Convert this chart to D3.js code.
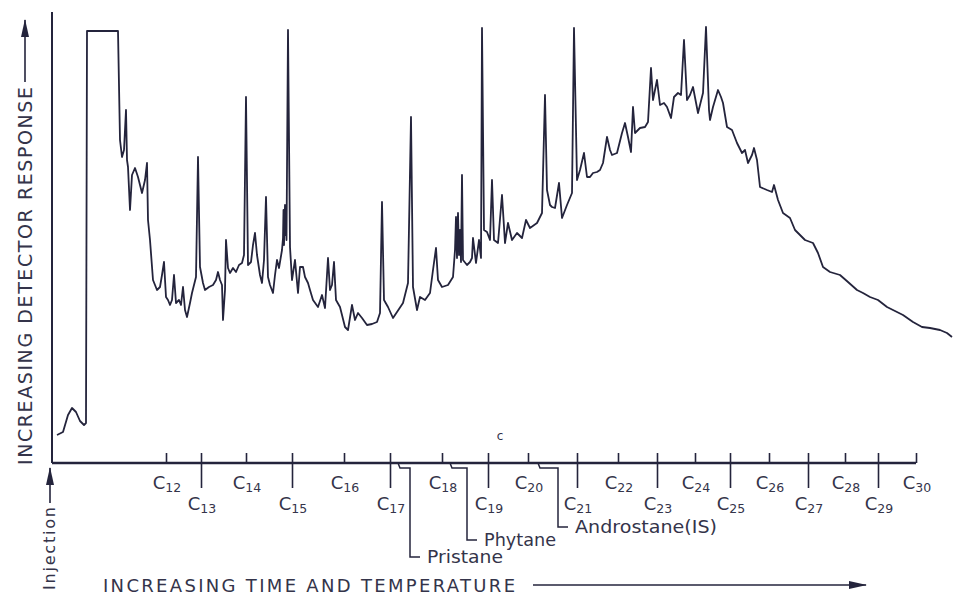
<!DOCTYPE html>
<html>
<head>
<meta charset="utf-8">
<script src="https://cdn.jsdelivr.net/npm/d3@7"></script>
<style>
  html, body { margin: 0; padding: 0; background: #ffffff; }
  svg { display: block; }
  text { font-family: "DejaVu Sans", sans-serif; fill: #34344a; }
</style>
</head>
<body>
<svg id="chart" width="956" height="613"></svg>
<script>
// Gas chromatogram trace: retention time (min) and detector response (arbitrary units)
const timeMin = [
  0.5, 1.1, 1.6, 2.0, 2.4, 2.8, 3.2, 3.4, 3.5, 6.6,
  6.8, 7.0, 7.2, 7.4, 7.5, 7.6, 7.8, 8.0, 8.3, 8.6,
  8.8, 9.0, 9.3, 9.5, 9.6, 9.8, 10.1, 10.5, 10.8, 11.0,
  11.2, 11.4, 11.6, 11.8, 12.0, 12.2, 12.4, 12.7, 12.9, 13.1,
  13.3, 13.5, 13.8, 14.0, 14.2, 14.4, 14.6, 14.8, 15.1, 15.3,
  15.7, 16.1, 16.4, 16.6, 16.8, 17.0, 17.1, 17.3, 17.4, 17.6,
  17.8, 18.1, 18.4, 18.7, 19.0, 19.2, 19.4, 19.6, 19.9, 20.1,
  20.3, 20.5, 20.8, 21.0, 21.2, 21.4, 21.6, 21.8, 22.1, 22.3,
  22.5, 22.7, 23.0, 23.1, 23.15, 23.2, 23.3, 23.35, 23.4, 23.45,
  23.6, 23.8, 24.0, 24.3,
  24.6, 24.8, 25.1, 25.3, 25.6, 25.8, 26.1, 26.6, 27.0, 27.3,
  27.6, 27.8, 28.0, 28.2, 28.4, 28.8, 29.3, 29.6, 30.0, 30.3,
  30.6, 31.0, 31.5, 32.0, 32.5, 32.8, 33.0, 33.2, 33.6, 34.1,
  34.5, 35.1, 35.6, 35.9, 36.1, 36.5, 36.8, 37.3, 37.8, 38.1,
  38.4, 38.6, 39.0, 39.6, 40.1, 40.3, 40.4, 40.5, 40.6, 40.7,
  40.8, 40.9, 41.0,
  41.1, 41.5, 41.8, 42.0, 42.1, 42.4, 42.7, 42.9, 43.0, 43.2,
  43.5, 43.8, 44.0, 44.2, 44.6, 45.0, 45.3, 45.6, 46.0, 46.5,
  47.0, 47.4, 47.8, 48.5, 49.0, 49.3, 49.5, 49.8, 50.0, 50.3,
  50.7, 51.0, 51.5, 52.0, 52.2, 52.5, 52.8, 53.2, 53.5, 53.8,
  54.1, 54.5, 54.8, 55.1, 55.5, 55.8, 56.0, 56.5, 57.0, 57.3,
  57.6, 57.9, 58.1, 58.3, 58.8, 59.3, 59.6, 59.9, 60.1, 60.5,
  60.8, 61.2, 61.5, 61.9, 62.2, 62.6, 62.9, 63.2, 63.5, 63.8,
  64.1, 64.6, 65.1, 65.4, 65.7, 65.8, 66.1, 66.6, 66.9, 67.1,
  67.5, 68.0, 68.5, 69.0, 69.3, 69.6, 70.0, 70.2, 70.5, 70.8,
  71.5, 72.0, 72.2, 72.6, 73.1, 73.8, 74.3, 74.8, 75.3, 76.1,
  76.6, 77.1, 77.8, 78.8, 79.6, 80.5, 81.1, 81.8, 82.6, 83.5,
  84.1, 85.1, 86.1, 87.0, 87.8, 88.8, 89.5, 90.0
];
const response = [
  7, 7.75, 12, 13.75, 12.75, 10.5, 9.5, 10, 108, 108,
  80.75, 76.5, 78.25, 88.25, 75.75, 74, 63.25, 72, 73.75, 71.5,
  69.5, 67.5, 70.75, 75, 60.75, 55.75, 45.75, 43.25, 44, 47,
  50.25, 41.5, 40.75, 39.5, 40.75, 47, 40, 40.75, 39.5, 44,
  38.25, 36.5, 40, 42.5, 44.5, 46.5, 76.5, 49, 45, 43.25,
  44, 44.5, 45.75, 47.75, 45.75, 44.5, 35.75, 43.25, 55.75, 48.75,
  47.5, 48.75, 47.75, 49.5, 50, 52, 91.5, 49.5, 50.25, 54.5,
  57.5, 52, 47, 45, 50.75, 66.5, 46.5, 44.5, 42.5, 47,
  50.75, 48.75, 53.25, 56.25, 63.25, 54.5, 64.5, 57, 62, 55.75,
  108.25, 54, 45.75, 50.75,
  42.5, 49, 49, 46.5, 45, 43.25, 40.75, 39, 42, 38.75,
  51.25, 43.25, 44.5, 50.25, 40.75, 39, 34, 33.25, 39.5, 35.75,
  37.5, 36.25, 34.5, 34.75, 35.25, 37.5, 65.25, 40.75, 39, 36.25,
  37.75, 40, 45, 86.5, 44, 38.25, 41.5, 40.75, 42.5, 48.25,
  53.75, 45.75, 44, 44.5, 46.5, 53.25, 61.5, 51.25, 62.5, 52,
  58.25, 50.25, 72,
  50.75, 49.5, 50.25, 51.25, 56.25, 50, 55.75, 51.25, 108.75, 58.25,
  57.75, 55.75, 70.75, 55.75, 55, 67, 55, 60, 55.75, 57.5,
  56.25, 60.75, 58.75, 60, 62.5, 92, 68.25, 64.5, 64, 63.75,
  70, 61.25, 64.5, 67.5, 108.75, 70.75, 73.25, 77.5, 71.5, 71.5,
  72.5, 72.75, 73.25, 75, 81.5, 78.25, 77, 77.5, 82.5, 85,
  81.5, 77.75, 89, 82.5, 83.75, 84, 85.25, 98.75, 90.75, 95.75,
  89.5, 90, 89, 86.25, 91.5, 92.5, 92, 105.75, 90.75, 92,
  94, 87.5, 92.5, 109, 88.25, 85.75, 89, 93.25, 91.5, 90,
  84, 83.25, 80, 77.5, 78.25, 75, 77, 78.75, 75.75, 69,
  68.25, 67.75, 69.5, 65.75, 62.5, 61.25, 58.25, 57, 55.75, 55,
  52.5, 49, 47.75, 47, 45.25, 43.25, 42.5, 41.5, 40.75, 39,
  38.25, 37, 35.25, 34, 33.75, 33.25, 32.5, 31.5
];

// n-alkane retention times (axis ticks) and their carbon numbers
const carbonNumbers = [12, 13, 14, 15, 16, 17, 18, 19, 20, 21, 22, 23, 24, 25, 26, 27, 28, 29, 30];
const carbonTimes = [11.4, 14.9, 19.4, 24.0, 29.2, 33.8, 39.0, 43.6, 47.6, 52.5, 56.6, 60.5, 64.3, 67.8, 71.7, 75.6, 79.3, 82.6, 86.4];

// Marker compounds: retention time, where the leader turns down, and how far below the baseline the label sits
const compoundNames = ["Pristane", "Phytane", "Androstane(IS)"];
const compoundTimes = [34.6, 39.8, 48.6];
const compoundLeaderEnd = [35.8, 41.5, 50.6];
const compoundDrop = [-23.5, -19.25, -16];
const compoundLabelWidth = [76, 72, 142];

const svg = d3.select("#chart");

const x = d3.scaleLinear().domain([0, 90]).range([52, 952]);
const y = d3.scaleLinear().domain([0, 110]).range([463, 23]);

const ink = "#24243c";

// vertical (response) axis line
svg.append("line")
  .attr("x1", x(0)).attr("x2", x(0))
  .attr("y1", 12).attr("y2", y(0))
  .attr("stroke", ink).attr("stroke-width", 2);

// horizontal time axis with alternating long/short ticks
const xAxis = d3.axisBottom(x)
  .tickValues(carbonTimes)
  .tickSizeInner(10)
  .tickSizeOuter(0)
  .tickFormat("");

const axisG = svg.append("g")
  .attr("transform", `translate(0,${y(0)})`)
  .call(xAxis);
axisG.select(".domain").remove();
axisG.selectAll(".tick line")
  .attr("stroke", ink)
  .attr("stroke-width", 1.6)
  .attr("y1", -10)
  .attr("y2", (d, i) => (carbonNumbers[i] % 2 === 1 ? 25 : 0));

svg.append("line")
  .attr("x1", x(0)).attr("x2", x(carbonTimes[carbonTimes.length - 1]))
  .attr("y1", y(0)).attr("y2", y(0))
  .attr("stroke", ink).attr("stroke-width", 2.4);

// carbon-number labels (C with subscript)
carbonNumbers.forEach((n, i) => {
  const odd = n % 2 === 1;
  const t = svg.append("text")
    .attr("x", x(carbonTimes[i]) + 1)
    .attr("y", y(0) + (odd ? 47 : 26))
    .attr("text-anchor", "middle");
  t.append("tspan").attr("font-size", 18).text("C");
  t.append("tspan").attr("font-size", 12.5).attr("dy", 3).text(n);
});

// stray mark above the axis
svg.append("text")
  .attr("x", x(44.8)).attr("y", 440)
  .attr("text-anchor", "middle")
  .attr("font-size", 12)
  .text("c");

// compound leader lines and labels
compoundNames.forEach((name, i) => {
  const t0 = x(compoundTimes[i]);
  const t1 = x(compoundLeaderEnd[i]);
  const yb = y(0);
  const yl = y(compoundDrop[i]);
  svg.append("path")
    .attr("d", `M${t0},${yb} L${t0 + 2},${yb + 5} L${t1},${yb + 5} L${t1},${yl} L${t1 + 10},${yl}`)
    .attr("fill", "none")
    .attr("stroke", ink)
    .attr("stroke-width", 1.5);
  svg.append("text")
    .attr("x", t1 + 17)
    .attr("y", yl + 6)
    .attr("font-size", 17)
    .attr("textLength", compoundLabelWidth[i])
    .attr("lengthAdjust", "spacingAndGlyphs")
    .text(name);
});

// chromatogram trace
const line = d3.line()
  .x((d, i) => x(timeMin[i]))
  .y((d, i) => y(response[i]));

svg.append("path")
  .datum(response)
  .attr("d", line)
  .attr("fill", "none")
  .attr("stroke", ink)
  .attr("stroke-width", 1.8)
  .attr("stroke-linejoin", "round");

// arrowhead used by the axis titles and the injection marker
const defs = svg.append("defs");
defs.append("marker")
  .attr("id", "headBig")
  .attr("viewBox", "0 0 18 8")
  .attr("refX", 17).attr("refY", 4)
  .attr("markerWidth", 18).attr("markerHeight", 8)
  .attr("markerUnits", "userSpaceOnUse")
  .attr("orient", "auto")
  .append("path")
  .attr("d", "M0,0 L18,4 L0,8 Z")
  .attr("fill", ink);

svg.append("text")
  .attr("transform", "translate(32,465) rotate(-90)")
  .attr("font-size", 19)
  .attr("textLength", 378)
  .attr("lengthAdjust", "spacing")
  .text("INCREASING DETECTOR RESPONSE");
svg.append("line")
  .attr("x1", 25).attr("x2", 25)
  .attr("y1", 82).attr("y2", 20)
  .attr("stroke", ink).attr("stroke-width", 1.6)
  .attr("marker-end", "url(#headBig)");

svg.append("text")
  .attr("x", 103).attr("y", 592)
  .attr("font-size", 18)
  .attr("textLength", 412)
  .attr("lengthAdjust", "spacing")
  .text("INCREASING TIME AND TEMPERATURE");
svg.append("line")
  .attr("x1", 533).attr("x2", 866)
  .attr("y1", 585).attr("y2", 585)
  .attr("stroke", ink).attr("stroke-width", 1.6)
  .attr("marker-end", "url(#headBig)");

// injection marker below the origin
svg.append("line")
  .attr("x1", 50).attr("x2", 50)
  .attr("y1", 503).attr("y2", 468)
  .attr("stroke", ink).attr("stroke-width", 1.6)
  .attr("marker-end", "url(#headBig)");
svg.append("text")
  .attr("transform", "translate(55,590) rotate(-90)")
  .attr("font-size", 16)
  .attr("textLength", 83)
  .attr("lengthAdjust", "spacing")
  .text("Injection");
</script>
</body>
</html>
